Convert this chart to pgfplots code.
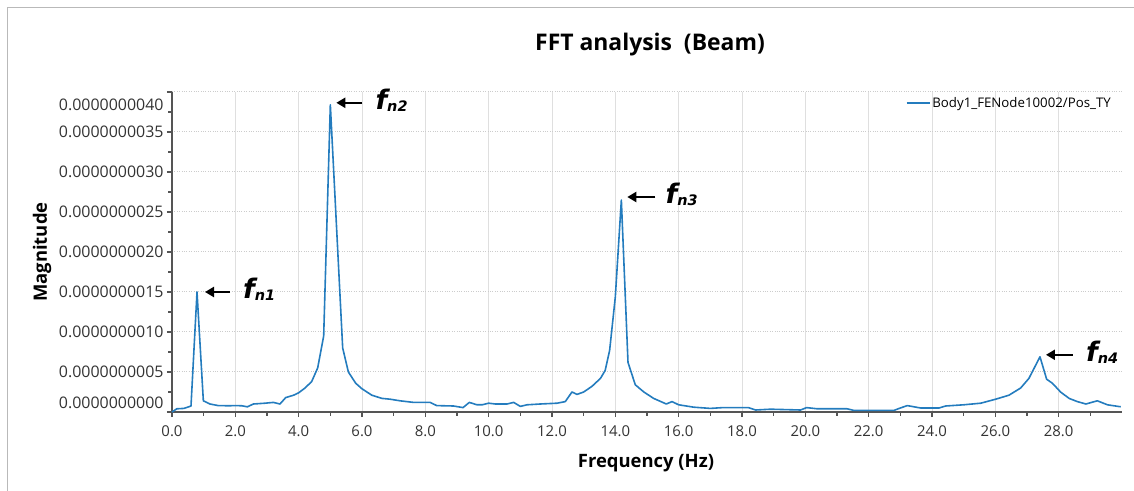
\documentclass[border=0pt]{standalone}
\usepackage{fontspec}
\setmainfont{Open Sans}
\newfontfamily\annfont{DejaVu Sans}
\usepackage{pgfplots}
\pgfplotsset{compat=1.18}
\usetikzlibrary{arrows.meta}
\definecolor{fftblue}{RGB}{36,124,190}
\definecolor{axgray}{RGB}{85,85,85}

\pgfplotstableread{
x y
0.00 0.00
0.15 0.04
0.38 0.045
0.60 0.075
0.79 1.50
0.99 0.14
1.20 0.10
1.46 0.08
1.80 0.078
2.00 0.08
2.20 0.078
2.38 0.065
2.57 0.10
2.94 0.11
3.20 0.12
3.41 0.10
3.59 0.18
3.84 0.21
4.00 0.24
4.20 0.30
4.41 0.38
4.60 0.55
4.79 0.95
5.00 3.84
5.39 0.80
5.57 0.50
5.80 0.36
6.00 0.29
6.31 0.21
6.63 0.17
6.89 0.16
7.20 0.14
7.63 0.12
8.15 0.12
8.36 0.08
8.89 0.075
9.19 0.055
9.39 0.12
9.63 0.09
9.79 0.09
10.00 0.11
10.21 0.10
10.58 0.10
10.79 0.12
11.00 0.07
11.21 0.09
11.63 0.10
12.16 0.11
12.42 0.13
12.63 0.25
12.79 0.22
13.00 0.25
13.26 0.32
13.53 0.42
13.68 0.52
13.82 0.77
14.00 1.44
14.19 2.65
14.40 0.62
14.63 0.34
14.90 0.25
15.21 0.17
15.61 0.10
15.79 0.13
16.00 0.09
16.48 0.06
17.00 0.045
17.40 0.055
18.20 0.055
18.43 0.025
18.90 0.035
19.85 0.025
20.04 0.055
20.38 0.04
21.32 0.04
21.53 0.02
22.80 0.02
23.00 0.05
23.22 0.08
23.64 0.05
24.22 0.05
24.43 0.075
25.00 0.09
25.54 0.11
26.01 0.16
26.43 0.21
26.80 0.30
27.06 0.42
27.41 0.69
27.62 0.41
27.80 0.36
28.06 0.25
28.33 0.17
28.59 0.13
28.86 0.10
29.22 0.14
29.54 0.09
29.96 0.065
}\fftdata

\newcommand{\fnlab}[1]{{\annfont\bfseries\itshape\fontsize{27}{27}\selectfont f\raisebox{-2bp}{\fontsize{14.5}{14.5}\selectfont n#1}}}

\begin{document}
\begin{tikzpicture}
\useasboundingbox (-172bp,-79bp) rectangle (962bp,412bp);
\draw[gray!55, line width=1bp] (-164bp,-79bp) -- (-164bp,404bp) -- (962bp,404bp);
\begin{axis}[
  at={(0,0)}, anchor=south west,
  scale only axis, width=950bp, height=320bp,
  xmin=0, xmax=30, ymin=0, ymax=4,
  clip=false,
  axis x line*=bottom, axis y line*=left,
  axis line style={axgray, line width=1.1bp},
  xtick={0,2,...,28},
  xticklabels={0.0,2.0,4.0,6.0,8.0,10.0,12.0,14.0,16.0,18.0,20.0,22.0,24.0,26.0,28.0},
  minor xtick={1,3,...,29},
  ytick={0,0.5,1,1.5,2,2.5,3,3.5,4},
  yticklabels={\smash{\raisebox{3.3bp}{0.0000000000}},0.0000000005,0.0000000010,0.0000000015,0.0000000020,0.0000000025,0.0000000030,0.0000000035,\smash{\raisebox{-18.7bp}{0.0000000040}}},
  minor ytick={0.25,0.75,...,3.75},
  tick align=outside,
  major tick length=5bp, minor tick length=3.5bp,
  tick style={axgray, line width=1.3bp},
  xmajorgrids, ymajorgrids,
  x grid style={gray!25, line width=0.9bp},
  y grid style={gray!40, dotted, line width=1bp},
  xticklabel style={font=\fontsize{15}{17}\selectfont, text=black!80, yshift=-5bp},
  yticklabel style={font=\fontsize{16}{18}\selectfont, text=black!80},
  legend style={draw=none, fill=none, at={(0.9905,0.966)}, anchor=east,
    font=\fontsize{13.3}{15}\selectfont, inner sep=0pt},
  legend cell align=left,
  legend image code/.code={\draw[#1, line width=1.6bp] (0bp,0bp) -- (23bp,0bp);},
]
\addplot[fftblue, line width=1.6bp, line join=round] table[x=x,y=y] {\fftdata};
\addlegendentry{Body1\_FENode10002/Pos\_TY}

\draw[-{Triangle[length=9bp,width=10bp]}, line width=2.3bp] ([xshift=33bp]axis cs:0.79,1.5) -- ([xshift=8bp]axis cs:0.79,1.5);
\node[anchor=west, inner sep=0pt] at ([xshift=46bp,yshift=3bp]axis cs:0.79,1.5) {\fnlab{1}};
\draw[-{Triangle[length=9bp,width=10bp]}, line width=2.3bp] ([xshift=32bp,yshift=2bp]axis cs:5.0,3.84) -- ([xshift=6bp,yshift=2bp]axis cs:5.0,3.84);
\node[anchor=west, inner sep=0pt] at ([xshift=45bp,yshift=5bp]axis cs:5.0,3.84) {\fnlab{2}};
\draw[-{Triangle[length=9bp,width=10bp]}, line width=2.3bp] ([xshift=34bp,yshift=3bp]axis cs:14.19,2.65) -- ([xshift=6bp,yshift=3bp]axis cs:14.19,2.65);
\node[anchor=west, inner sep=0pt] at ([xshift=44bp,yshift=6bp]axis cs:14.19,2.65) {\fnlab{3}};
\draw[-{Triangle[length=9bp,width=10bp]}, line width=2.3bp] ([xshift=33bp,yshift=2bp]axis cs:27.41,0.69) -- ([xshift=6bp,yshift=2bp]axis cs:27.41,0.69);
\node[anchor=west, inner sep=0pt] at ([xshift=46bp,yshift=5bp]axis cs:27.41,0.69) {\fnlab{4}};
\end{axis}
\node[font=\bfseries\fontsize{23}{27}\selectfont] at (478bp,367bp) {FFT analysis\ \ (Beam)};
\node[font=\bfseries\fontsize{18.5}{22}\selectfont, rotate=90] at (-130bp,160bp) {Magnitude};
\node[font=\bfseries\fontsize{18.5}{22}\selectfont] at (474bp,-51bp) {Frequency (Hz)};
\end{tikzpicture}
\end{document}
